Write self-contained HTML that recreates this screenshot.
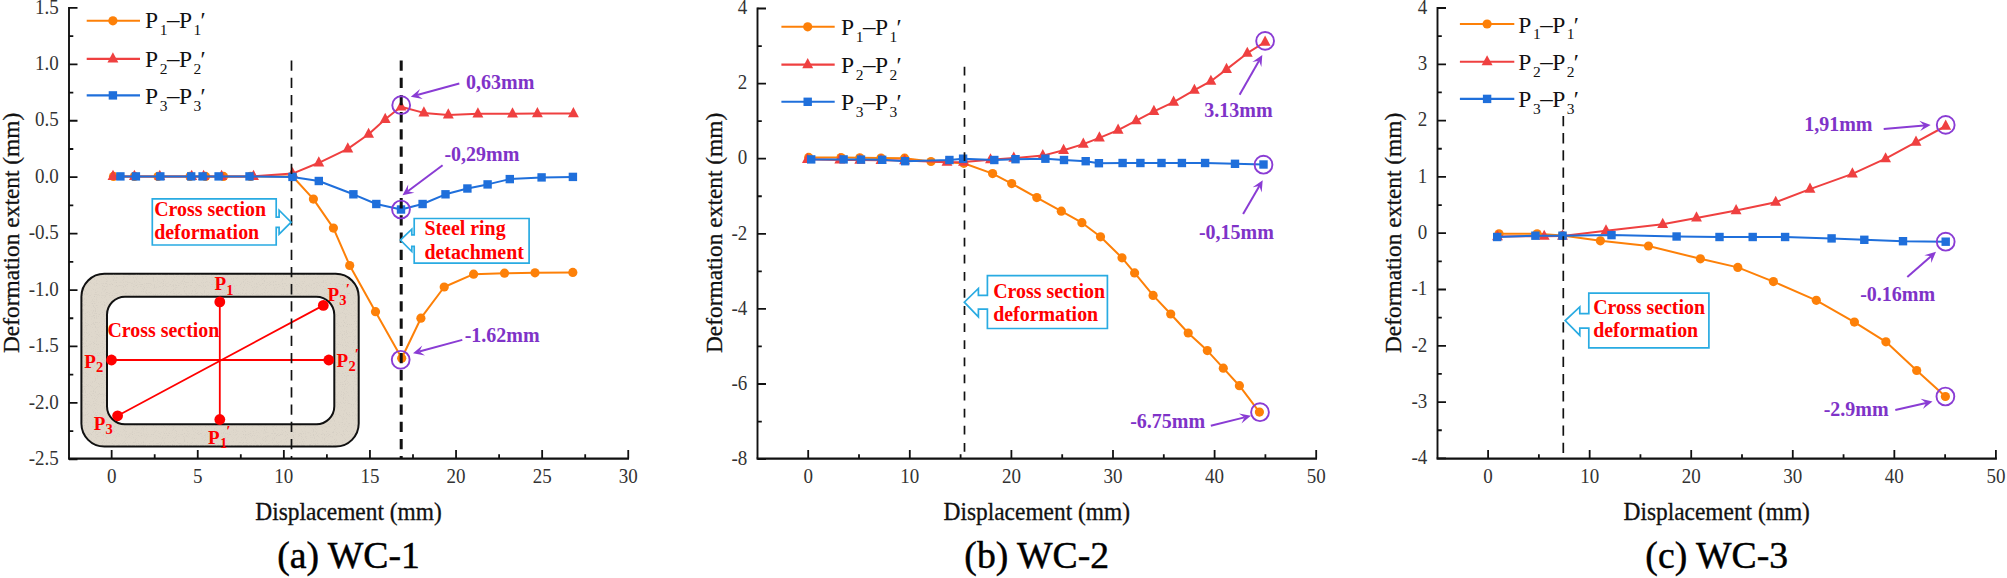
<!DOCTYPE html><html><head><meta charset="utf-8"><title>Deformation extent</title><style>html,body{margin:0;padding:0;background:#fff;}svg{display:block;}</style></head><body>
<svg width="2007" height="578" viewBox="0 0 2007 578">
<rect width="2007" height="578" fill="#fff"/>
<path d="M69 7V458.6" fill="none" stroke="#111" stroke-width="1.9"/>
<path d="M68.05 458.6H629" fill="none" stroke="#111" stroke-width="2.3"/>
<path d="M111.65 458.6v-8.5M197.75 458.6v-8.5M283.85 458.6v-8.5M369.95 458.6v-8.5M456.05 458.6v-8.5M542.15 458.6v-8.5M628.25 458.6v-8.5M154.7 458.6v-4.3M240.8 458.6v-4.3M326.9 458.6v-4.3M413 458.6v-4.3M499.1 458.6v-4.3M585.2 458.6v-4.3M69 7.93h8.5M69 64.35h8.5M69 120.77h8.5M69 177.2h8.5M69 233.62h8.5M69 290.05h8.5M69 346.47h8.5M69 402.9h8.5M69 459.32h8.5M69 36.14h4.3M69 92.56h4.3M69 148.99h4.3M69 205.41h4.3M69 261.84h4.3M69 318.26h4.3M69 374.69h4.3M69 431.11h4.3" fill="none" stroke="#111" stroke-width="1.8"/>
<g font-family="'Liberation Serif',serif" font-size="19" fill="#333">
<text transform="translate(111.65 482.8) scale(1 1.08)" text-anchor="middle">0</text>
<text transform="translate(197.75 482.8) scale(1 1.08)" text-anchor="middle">5</text>
<text transform="translate(283.85 482.8) scale(1 1.08)" text-anchor="middle">10</text>
<text transform="translate(369.95 482.8) scale(1 1.08)" text-anchor="middle">15</text>
<text transform="translate(456.05 482.8) scale(1 1.08)" text-anchor="middle">20</text>
<text transform="translate(542.15 482.8) scale(1 1.08)" text-anchor="middle">25</text>
<text transform="translate(628.25 482.8) scale(1 1.08)" text-anchor="middle">30</text>
<text transform="translate(58.8 13.63) scale(1 1.08)" text-anchor="end">1.5</text>
<text transform="translate(58.8 70.05) scale(1 1.08)" text-anchor="end">1.0</text>
<text transform="translate(58.8 126.47) scale(1 1.08)" text-anchor="end">0.5</text>
<text transform="translate(58.8 182.9) scale(1 1.08)" text-anchor="end">0.0</text>
<text transform="translate(58.8 239.32) scale(1 1.08)" text-anchor="end">-0.5</text>
<text transform="translate(58.8 295.75) scale(1 1.08)" text-anchor="end">-1.0</text>
<text transform="translate(58.8 352.17) scale(1 1.08)" text-anchor="end">-1.5</text>
<text transform="translate(58.8 408.6) scale(1 1.08)" text-anchor="end">-2.0</text>
<text transform="translate(58.8 465.02) scale(1 1.08)" text-anchor="end">-2.5</text>
</g>
<text transform="translate(348.5 520.3) scale(1 1.08)" text-anchor="middle" font-family="'Liberation Serif',serif" font-size="23.4" fill="#111" stroke="#111" stroke-width="0.3">Displacement (mm)</text>
<text transform="translate(19.2 232.9) rotate(-90)" text-anchor="middle" font-family="'Liberation Serif',serif" font-size="23.4" fill="#111" stroke="#111" stroke-width="0.3">Deformation extent (mm)</text>
<text x="348.5" y="567.8" text-anchor="middle" font-family="'Liberation Serif',serif" font-size="37.7" fill="#000" stroke="#000" stroke-width="0.45">(a) WC-1</text>
<g>
<rect x="81.4" y="273.7" width="277.3" height="172.9" rx="23" ry="23" fill="#DFD8CC" stroke="#111" stroke-width="2"/>
<filter id="grain" x="0" y="0" width="1" height="1"><feTurbulence type="fractalNoise" baseFrequency="1.1" numOctaves="1" seed="7"/><feColorMatrix type="matrix" values="0 0 0 0 0.55 0 0 0 0 0.52 0 0 0 0 0.47 0 0 0 1.8 -0.98"/><feComposite operator="in" in2="SourceGraphic"/></filter>
<rect x="82.4" y="274.7" width="275.3" height="170.9" rx="22" ry="22" fill="#000" filter="url(#grain)"/>
<rect x="107" y="296.7" width="227.3" height="127.5" rx="18" ry="18" fill="#fff" stroke="#111" stroke-width="2"/>
<path d="M219.8 301.9V419.5M111.5 360H328.8M117.6 415.8L323.3 305.4" stroke="#FF0000" stroke-width="1.8"/>
<circle cx="219.8" cy="301.9" r="5.4" fill="#FF0000"/>
<circle cx="219.8" cy="419.5" r="5.4" fill="#FF0000"/>
<circle cx="111.5" cy="360" r="5.4" fill="#FF0000"/>
<circle cx="328.8" cy="360" r="5.4" fill="#FF0000"/>
<circle cx="117.6" cy="415.8" r="5.4" fill="#FF0000"/>
<circle cx="323.3" cy="305.4" r="5.4" fill="#FF0000"/>
<text x="214.5" y="289.9" font-family="'Liberation Serif',serif" font-weight="bold" font-size="19" fill="#FF0000">P<tspan font-size="14.5" dy="4.6" dx="0.2">1</tspan></text>
<text x="208.1" y="443.6" font-family="'Liberation Serif',serif" font-weight="bold" font-size="19" fill="#FF0000">P<tspan font-size="14.5" dy="4.6" dx="0.2">1</tspan><tspan dy="-11.8" dx="-0.8" font-size="15.5">′</tspan></text>
<text x="84.2" y="367.6" font-family="'Liberation Serif',serif" font-weight="bold" font-size="19" fill="#FF0000">P<tspan font-size="14.5" dy="4.6" dx="0.2">2</tspan></text>
<text x="336.6" y="366.5" font-family="'Liberation Serif',serif" font-weight="bold" font-size="19" fill="#FF0000">P<tspan font-size="14.5" dy="4.6" dx="0.2">2</tspan><tspan dy="-11.8" dx="-0.8" font-size="15.5">′</tspan></text>
<text x="93.8" y="429.7" font-family="'Liberation Serif',serif" font-weight="bold" font-size="19" fill="#FF0000">P<tspan font-size="14.5" dy="4.6" dx="0.2">3</tspan></text>
<text x="327.4" y="300.8" font-family="'Liberation Serif',serif" font-weight="bold" font-size="19" fill="#FF0000">P<tspan font-size="14.5" dy="4.6" dx="0.2">3</tspan><tspan dy="-11.8" dx="-0.8" font-size="15.5">′</tspan></text>
<text x="107.5" y="336.5" font-family="'Liberation Serif',serif" font-weight="bold" font-size="19.9" fill="#FF0000">Cross section</text>
</g>
<path d="M113.5 176.4L134.4 176.4L158 176.4L190 176.4L205.5 176.4L223.5 176.4L250.5 176.4L292.7 176.5L313.4 199.1L333.4 228.1L349.7 265.5L375.5 311.7L401.7 358.2L420.9 318.2L444.2 287L473.6 274.2L504.5 273.2L535 272.8L572.8 272.4" fill="none" stroke="#FD8008" stroke-width="2" stroke-linejoin="round"/>
<g><circle cx="113.5" cy="176.4" r="4.6" fill="#FD8008"/><circle cx="134.4" cy="176.4" r="4.6" fill="#FD8008"/><circle cx="158" cy="176.4" r="4.6" fill="#FD8008"/><circle cx="190" cy="176.4" r="4.6" fill="#FD8008"/><circle cx="205.5" cy="176.4" r="4.6" fill="#FD8008"/><circle cx="223.5" cy="176.4" r="4.6" fill="#FD8008"/><circle cx="250.5" cy="176.4" r="4.6" fill="#FD8008"/><circle cx="292.7" cy="176.5" r="4.6" fill="#FD8008"/><circle cx="313.4" cy="199.1" r="4.6" fill="#FD8008"/><circle cx="333.4" cy="228.1" r="4.6" fill="#FD8008"/><circle cx="349.7" cy="265.5" r="4.6" fill="#FD8008"/><circle cx="375.5" cy="311.7" r="4.6" fill="#FD8008"/><circle cx="401.7" cy="358.2" r="4.6" fill="#FD8008"/><circle cx="420.9" cy="318.2" r="4.6" fill="#FD8008"/><circle cx="444.2" cy="287" r="4.6" fill="#FD8008"/><circle cx="473.6" cy="274.2" r="4.6" fill="#FD8008"/><circle cx="504.5" cy="273.2" r="4.6" fill="#FD8008"/><circle cx="535" cy="272.8" r="4.6" fill="#FD8008"/><circle cx="572.8" cy="272.4" r="4.6" fill="#FD8008"/></g>
<path d="M113 176.4L134.4 176.4L159.8 176.4L191.7 176.4L203.6 176.4L221.6 176.4L253.5 176.4L292.5 173.6L318.8 162.8L347.8 148.9L368.6 134.2L385.2 119.3L401 106.8L423.9 112.9L448.3 114.9L477.9 113.8L512.5 113.8L537.4 113.5L573.4 113.5" fill="none" stroke="#EF4040" stroke-width="2" stroke-linejoin="round"/>
<g><path d="M113 169.87L118.45 180.07H107.55Z" fill="#EF4040"/><path d="M134.4 169.87L139.85 180.07H128.95Z" fill="#EF4040"/><path d="M159.8 169.87L165.25 180.07H154.35Z" fill="#EF4040"/><path d="M191.7 169.87L197.15 180.07H186.25Z" fill="#EF4040"/><path d="M203.6 169.87L209.05 180.07H198.15Z" fill="#EF4040"/><path d="M221.6 169.87L227.05 180.07H216.15Z" fill="#EF4040"/><path d="M253.5 169.87L258.95 180.07H248.05Z" fill="#EF4040"/><path d="M292.5 167.07L297.95 177.27H287.05Z" fill="#EF4040"/><path d="M318.8 156.27L324.25 166.47H313.35Z" fill="#EF4040"/><path d="M347.8 142.37L353.25 152.57H342.35Z" fill="#EF4040"/><path d="M368.6 127.67L374.05 137.87H363.15Z" fill="#EF4040"/><path d="M385.2 112.77L390.65 122.97H379.75Z" fill="#EF4040"/><path d="M401 100.27L406.45 110.47H395.55Z" fill="#EF4040"/><path d="M423.9 106.37L429.35 116.57H418.45Z" fill="#EF4040"/><path d="M448.3 108.37L453.75 118.57H442.85Z" fill="#EF4040"/><path d="M477.9 107.27L483.35 117.47H472.45Z" fill="#EF4040"/><path d="M512.5 107.27L517.95 117.47H507.05Z" fill="#EF4040"/><path d="M537.4 106.97L542.85 117.17H531.95Z" fill="#EF4040"/><path d="M573.4 106.97L578.85 117.17H567.95Z" fill="#EF4040"/></g>
<path d="M120.4 176.4L135.9 176.4L160.3 176.4L191.2 176.4L202.6 176.4L218.6 176.4L249.5 176.4L292.5 176.9L318.8 181L353.4 194.3L376.3 204L401 209.5L422.6 204L445.5 194.3L467.4 188.5L487.6 184.4L509.8 179.1L541.6 177.4L572.9 176.9" fill="none" stroke="#1F6FDB" stroke-width="2" stroke-linejoin="round"/>
<g><rect x="116.2" y="172.2" width="8.4" height="8.4" fill="#1F6FDB"/><rect x="131.7" y="172.2" width="8.4" height="8.4" fill="#1F6FDB"/><rect x="156.1" y="172.2" width="8.4" height="8.4" fill="#1F6FDB"/><rect x="187" y="172.2" width="8.4" height="8.4" fill="#1F6FDB"/><rect x="198.4" y="172.2" width="8.4" height="8.4" fill="#1F6FDB"/><rect x="214.4" y="172.2" width="8.4" height="8.4" fill="#1F6FDB"/><rect x="245.3" y="172.2" width="8.4" height="8.4" fill="#1F6FDB"/><rect x="288.3" y="172.7" width="8.4" height="8.4" fill="#1F6FDB"/><rect x="314.6" y="176.8" width="8.4" height="8.4" fill="#1F6FDB"/><rect x="349.2" y="190.1" width="8.4" height="8.4" fill="#1F6FDB"/><rect x="372.1" y="199.8" width="8.4" height="8.4" fill="#1F6FDB"/><rect x="396.8" y="205.3" width="8.4" height="8.4" fill="#1F6FDB"/><rect x="418.4" y="199.8" width="8.4" height="8.4" fill="#1F6FDB"/><rect x="441.3" y="190.1" width="8.4" height="8.4" fill="#1F6FDB"/><rect x="463.2" y="184.3" width="8.4" height="8.4" fill="#1F6FDB"/><rect x="483.4" y="180.2" width="8.4" height="8.4" fill="#1F6FDB"/><rect x="505.6" y="174.9" width="8.4" height="8.4" fill="#1F6FDB"/><rect x="537.4" y="173.2" width="8.4" height="8.4" fill="#1F6FDB"/><rect x="568.7" y="172.7" width="8.4" height="8.4" fill="#1F6FDB"/></g>
<path d="M291.5 60.5V458" stroke="#111" stroke-width="1.7" stroke-dasharray="10.3 6.9"/>
<path d="M401.2 60.5V458" stroke="#111" stroke-width="3" stroke-dasharray="10.3 6.9"/>
<circle cx="401.2" cy="105.2" r="8.9" fill="none" stroke="#8A3CD4" stroke-width="1.9"/>
<circle cx="401" cy="209.5" r="8.9" fill="none" stroke="#8A3CD4" stroke-width="1.9"/>
<circle cx="400.7" cy="359.8" r="8.9" fill="none" stroke="#8A3CD4" stroke-width="1.9"/>
<path d="M86.7 20.8H140" stroke="#FD8008" stroke-width="2.1"/>
<circle cx="112.9" cy="20.8" r="4.6" fill="#FD8008"/>
<text font-family="'Liberation Serif',serif" font-size="23.5" fill="#111"><tspan x="145" y="28.3">P</tspan><tspan x="159.7" y="35.1" font-size="15.5">1</tspan><tspan x="167.1" y="28.3" font-size="25">–</tspan><tspan x="179" y="28.3">P</tspan><tspan x="193.5" y="35.1" font-size="15.5">1</tspan><tspan x="200.5" y="28.3">′</tspan></text>
<path d="M86.7 58.9H140" stroke="#EF4040" stroke-width="2.1"/>
<path d="M112.9 52.37L118.35 62.57H107.45Z" fill="#EF4040"/>
<text font-family="'Liberation Serif',serif" font-size="23.5" fill="#111"><tspan x="145" y="66.9">P</tspan><tspan x="159.7" y="73.7" font-size="15.5">2</tspan><tspan x="167.1" y="66.9" font-size="25">–</tspan><tspan x="179" y="66.9">P</tspan><tspan x="193.5" y="73.7" font-size="15.5">2</tspan><tspan x="200.5" y="66.9">′</tspan></text>
<path d="M86.7 95.4H140" stroke="#1F6FDB" stroke-width="2.1"/>
<rect x="108.7" y="91.2" width="8.4" height="8.4" fill="#1F6FDB"/>
<text font-family="'Liberation Serif',serif" font-size="23.5" fill="#111"><tspan x="145" y="104">P</tspan><tspan x="159.7" y="110.8" font-size="15.5">3</tspan><tspan x="167.1" y="104" font-size="25">–</tspan><tspan x="179" y="104">P</tspan><tspan x="193.5" y="110.8" font-size="15.5">3</tspan><tspan x="200.5" y="104">′</tspan></text>
<path d="M152.3 198.8H276.2V217.2H279.1V210.2L291.1 222.2L279.1 234.1V227.4H276.2V245H152.3Z" fill="#fff" stroke="#29ABE2" stroke-width="1.7" stroke-linejoin="miter"/>
<text x="154.2" y="215.8" font-family="'Liberation Serif',serif" font-weight="bold" font-size="19.9" fill="#FF0000">Cross section</text>
<text x="154.2" y="238.6" font-family="'Liberation Serif',serif" font-weight="bold" font-size="19.9" fill="#FF0000">deformation</text>
<path d="M529.1 218.5H414.2V234.9H411.8V229.2L400.4 240.1L411.8 251.5V246.3H414.2V263.2H529.1Z" fill="#fff" stroke="#29ABE2" stroke-width="1.7" stroke-linejoin="miter"/>
<text x="424.4" y="235.4" font-family="'Liberation Serif',serif" font-weight="bold" font-size="19.9" fill="#FF0000">Steel ring</text>
<text x="424.4" y="258.6" font-family="'Liberation Serif',serif" font-weight="bold" font-size="19.9" fill="#FF0000">detachment</text>
<text x="466" y="88.5" font-family="'Liberation Serif',serif" font-weight="bold" font-size="20" fill="#7F33C8">0,63mm</text>
<path d="M459.3 83.5L417.17 95.05" stroke="#8A3CD4" stroke-width="2.0"/>
<path d="M410.8 96.8L420.03 88.88L417.17 95.05L422.78 98.91Z" fill="#8A3CD4"/>
<text x="444.4" y="160.5" font-family="'Liberation Serif',serif" font-weight="bold" font-size="20" fill="#7F33C8">-0,29mm</text>
<path d="M442.6 165.3L407.79 191.25" stroke="#8A3CD4" stroke-width="2.0"/>
<path d="M402.5 195.2L408.21 184.46L407.79 191.25L414.43 192.79Z" fill="#8A3CD4"/>
<text x="464.7" y="341.6" font-family="'Liberation Serif',serif" font-weight="bold" font-size="20" fill="#7F33C8">-1.62mm</text>
<path d="M462.3 339.9L419.37 351.57" stroke="#8A3CD4" stroke-width="2.0"/>
<path d="M413 353.3L422.25 345.4L419.37 351.57L424.98 355.43Z" fill="#8A3CD4"/>
<path d="M757.5 7.4V458.6" fill="none" stroke="#111" stroke-width="1.9"/>
<path d="M756.55 458.6H1317" fill="none" stroke="#111" stroke-width="2.3"/>
<path d="M808.2 458.6v-8.5M909.8 458.6v-8.5M1011.4 458.6v-8.5M1113 458.6v-8.5M1214.6 458.6v-8.5M1316.2 458.6v-8.5M859 458.6v-4.3M960.6 458.6v-4.3M1062.2 458.6v-4.3M1163.8 458.6v-4.3M1265.4 458.6v-4.3M757.5 8.5h8.5M757.5 83.6h8.5M757.5 158.7h8.5M757.5 233.8h8.5M757.5 308.9h8.5M757.5 384h8.5M757.5 459.1h8.5M757.5 46.05h4.3M757.5 121.15h4.3M757.5 196.25h4.3M757.5 271.35h4.3M757.5 346.45h4.3M757.5 421.55h4.3" fill="none" stroke="#111" stroke-width="1.8"/>
<g font-family="'Liberation Serif',serif" font-size="19" fill="#333">
<text transform="translate(808.2 482.8) scale(1 1.08)" text-anchor="middle">0</text>
<text transform="translate(909.8 482.8) scale(1 1.08)" text-anchor="middle">10</text>
<text transform="translate(1011.4 482.8) scale(1 1.08)" text-anchor="middle">20</text>
<text transform="translate(1113 482.8) scale(1 1.08)" text-anchor="middle">30</text>
<text transform="translate(1214.6 482.8) scale(1 1.08)" text-anchor="middle">40</text>
<text transform="translate(1316.2 482.8) scale(1 1.08)" text-anchor="middle">50</text>
<text transform="translate(747.3 14.2) scale(1 1.08)" text-anchor="end">4</text>
<text transform="translate(747.3 89.3) scale(1 1.08)" text-anchor="end">2</text>
<text transform="translate(747.3 164.4) scale(1 1.08)" text-anchor="end">0</text>
<text transform="translate(747.3 239.5) scale(1 1.08)" text-anchor="end">-2</text>
<text transform="translate(747.3 314.6) scale(1 1.08)" text-anchor="end">-4</text>
<text transform="translate(747.3 389.7) scale(1 1.08)" text-anchor="end">-6</text>
<text transform="translate(747.3 464.8) scale(1 1.08)" text-anchor="end">-8</text>
</g>
<text transform="translate(1036.75 519.7) scale(1 1.08)" text-anchor="middle" font-family="'Liberation Serif',serif" font-size="23.4" fill="#111" stroke="#111" stroke-width="0.3">Displacement (mm)</text>
<text transform="translate(721.5 232.9) rotate(-90)" text-anchor="middle" font-family="'Liberation Serif',serif" font-size="23.4" fill="#111" stroke="#111" stroke-width="0.3">Deformation extent (mm)</text>
<text x="1036.75" y="567.8" text-anchor="middle" font-family="'Liberation Serif',serif" font-size="37.7" fill="#000" stroke="#000" stroke-width="0.45">(b) WC-2</text>
<path d="M808.7 157.4L841 157.6L859.8 157.8L881 158L904.6 158.2L931 161.5L963.8 163.3L992.6 173.6L1011.7 183.6L1036.8 197.6L1061.3 211.2L1081.9 222.7L1100.5 236.8L1122 257.8L1134.6 272.9L1153.1 295.4L1170.7 314L1188.2 333L1207.3 350.6L1223.3 368.2L1239.4 385.7L1259.4 412.1" fill="none" stroke="#FD8008" stroke-width="2" stroke-linejoin="round"/>
<g><circle cx="808.7" cy="157.4" r="4.6" fill="#FD8008"/><circle cx="841" cy="157.6" r="4.6" fill="#FD8008"/><circle cx="859.8" cy="157.8" r="4.6" fill="#FD8008"/><circle cx="881" cy="158" r="4.6" fill="#FD8008"/><circle cx="904.6" cy="158.2" r="4.6" fill="#FD8008"/><circle cx="931" cy="161.5" r="4.6" fill="#FD8008"/><circle cx="963.8" cy="163.3" r="4.6" fill="#FD8008"/><circle cx="992.6" cy="173.6" r="4.6" fill="#FD8008"/><circle cx="1011.7" cy="183.6" r="4.6" fill="#FD8008"/><circle cx="1036.8" cy="197.6" r="4.6" fill="#FD8008"/><circle cx="1061.3" cy="211.2" r="4.6" fill="#FD8008"/><circle cx="1081.9" cy="222.7" r="4.6" fill="#FD8008"/><circle cx="1100.5" cy="236.8" r="4.6" fill="#FD8008"/><circle cx="1122" cy="257.8" r="4.6" fill="#FD8008"/><circle cx="1134.6" cy="272.9" r="4.6" fill="#FD8008"/><circle cx="1153.1" cy="295.4" r="4.6" fill="#FD8008"/><circle cx="1170.7" cy="314" r="4.6" fill="#FD8008"/><circle cx="1188.2" cy="333" r="4.6" fill="#FD8008"/><circle cx="1207.3" cy="350.6" r="4.6" fill="#FD8008"/><circle cx="1223.3" cy="368.2" r="4.6" fill="#FD8008"/><circle cx="1239.4" cy="385.7" r="4.6" fill="#FD8008"/><circle cx="1259.4" cy="412.1" r="4.6" fill="#FD8008"/></g>
<path d="M807.4 159.3L839.8 159.9L859.8 160.1L881 160.3L904.6 160.6L947 162.2L963.5 162L990.5 159.7L1013.8 158.1L1042.8 155.6L1063.6 150.3L1083.3 144.1L1099.4 137.9L1118.1 130.1L1136.2 120.7L1153.9 111.4L1173.6 102.1L1194.4 90.2L1210.9 81.2L1226.5 69.4L1247.3 53.2L1265.1 42" fill="none" stroke="#EF4040" stroke-width="2" stroke-linejoin="round"/>
<g><path d="M807.4 152.77L812.85 162.97H801.95Z" fill="#EF4040"/><path d="M839.8 153.37L845.25 163.57H834.35Z" fill="#EF4040"/><path d="M859.8 153.57L865.25 163.77H854.35Z" fill="#EF4040"/><path d="M881 153.77L886.45 163.97H875.55Z" fill="#EF4040"/><path d="M904.6 154.07L910.05 164.27H899.15Z" fill="#EF4040"/><path d="M947 155.67L952.45 165.87H941.55Z" fill="#EF4040"/><path d="M963.5 155.47L968.95 165.67H958.05Z" fill="#EF4040"/><path d="M990.5 153.17L995.95 163.37H985.05Z" fill="#EF4040"/><path d="M1013.8 151.57L1019.25 161.77H1008.35Z" fill="#EF4040"/><path d="M1042.8 149.07L1048.25 159.27H1037.35Z" fill="#EF4040"/><path d="M1063.6 143.77L1069.05 153.97H1058.15Z" fill="#EF4040"/><path d="M1083.3 137.57L1088.75 147.77H1077.85Z" fill="#EF4040"/><path d="M1099.4 131.37L1104.85 141.57H1093.95Z" fill="#EF4040"/><path d="M1118.1 123.57L1123.55 133.77H1112.65Z" fill="#EF4040"/><path d="M1136.2 114.17L1141.65 124.37H1130.75Z" fill="#EF4040"/><path d="M1153.9 104.87L1159.35 115.07H1148.45Z" fill="#EF4040"/><path d="M1173.6 95.57L1179.05 105.77H1168.15Z" fill="#EF4040"/><path d="M1194.4 83.67L1199.85 93.87H1188.95Z" fill="#EF4040"/><path d="M1210.9 74.67L1216.35 84.87H1205.45Z" fill="#EF4040"/><path d="M1226.5 62.87L1231.95 73.07H1221.05Z" fill="#EF4040"/><path d="M1247.3 46.67L1252.75 56.87H1241.85Z" fill="#EF4040"/><path d="M1265.1 35.47L1270.55 45.67H1259.65Z" fill="#EF4040"/></g>
<path d="M811.2 159.4L843.6 159.4L861 159.6L882.2 159.8L905.1 161.2L949.4 160L963.1 158.7L994.3 160L1015.5 159.2L1045.4 158.7L1064 160L1085.7 161.2L1098.9 163.2L1122.6 163L1140.4 163L1161.5 163L1181.9 163L1205.1 163L1235 163.8L1263.5 164.5" fill="none" stroke="#1F6FDB" stroke-width="2" stroke-linejoin="round"/>
<g><rect x="807" y="155.2" width="8.4" height="8.4" fill="#1F6FDB"/><rect x="839.4" y="155.2" width="8.4" height="8.4" fill="#1F6FDB"/><rect x="856.8" y="155.4" width="8.4" height="8.4" fill="#1F6FDB"/><rect x="878" y="155.6" width="8.4" height="8.4" fill="#1F6FDB"/><rect x="900.9" y="157" width="8.4" height="8.4" fill="#1F6FDB"/><rect x="945.2" y="155.8" width="8.4" height="8.4" fill="#1F6FDB"/><rect x="958.9" y="154.5" width="8.4" height="8.4" fill="#1F6FDB"/><rect x="990.1" y="155.8" width="8.4" height="8.4" fill="#1F6FDB"/><rect x="1011.3" y="155" width="8.4" height="8.4" fill="#1F6FDB"/><rect x="1041.2" y="154.5" width="8.4" height="8.4" fill="#1F6FDB"/><rect x="1059.8" y="155.8" width="8.4" height="8.4" fill="#1F6FDB"/><rect x="1081.5" y="157" width="8.4" height="8.4" fill="#1F6FDB"/><rect x="1094.7" y="159" width="8.4" height="8.4" fill="#1F6FDB"/><rect x="1118.4" y="158.8" width="8.4" height="8.4" fill="#1F6FDB"/><rect x="1136.2" y="158.8" width="8.4" height="8.4" fill="#1F6FDB"/><rect x="1157.3" y="158.8" width="8.4" height="8.4" fill="#1F6FDB"/><rect x="1177.7" y="158.8" width="8.4" height="8.4" fill="#1F6FDB"/><rect x="1200.9" y="158.8" width="8.4" height="8.4" fill="#1F6FDB"/><rect x="1230.8" y="159.6" width="8.4" height="8.4" fill="#1F6FDB"/><rect x="1259.3" y="160.3" width="8.4" height="8.4" fill="#1F6FDB"/></g>
<path d="M964.5 66.7V458" stroke="#111" stroke-width="1.7" stroke-dasharray="8.8 8.3"/>
<circle cx="1265.1" cy="40.9" r="8.9" fill="none" stroke="#8A3CD4" stroke-width="1.9"/>
<circle cx="1263.5" cy="164.7" r="8.9" fill="none" stroke="#8A3CD4" stroke-width="1.9"/>
<circle cx="1260" cy="412.2" r="8.9" fill="none" stroke="#8A3CD4" stroke-width="1.9"/>
<path d="M781.4 26.8H834.7" stroke="#FD8008" stroke-width="2.1"/>
<circle cx="807.7" cy="26.8" r="4.6" fill="#FD8008"/>
<text font-family="'Liberation Serif',serif" font-size="23.5" fill="#111"><tspan x="841" y="35">P</tspan><tspan x="855.7" y="41.8" font-size="15.5">1</tspan><tspan x="863.1" y="35" font-size="25">–</tspan><tspan x="875" y="35">P</tspan><tspan x="889.5" y="41.8" font-size="15.5">1</tspan><tspan x="896.5" y="35">′</tspan></text>
<path d="M781.4 64.6H834.7" stroke="#EF4040" stroke-width="2.1"/>
<path d="M807.7 58.07L813.15 68.27H802.25Z" fill="#EF4040"/>
<text font-family="'Liberation Serif',serif" font-size="23.5" fill="#111"><tspan x="841" y="72.8">P</tspan><tspan x="855.7" y="79.6" font-size="15.5">2</tspan><tspan x="863.1" y="72.8" font-size="25">–</tspan><tspan x="875" y="72.8">P</tspan><tspan x="889.5" y="79.6" font-size="15.5">2</tspan><tspan x="896.5" y="72.8">′</tspan></text>
<path d="M781.4 101.8H834.7" stroke="#1F6FDB" stroke-width="2.1"/>
<rect x="803.5" y="97.6" width="8.4" height="8.4" fill="#1F6FDB"/>
<text font-family="'Liberation Serif',serif" font-size="23.5" fill="#111"><tspan x="841" y="109.9">P</tspan><tspan x="855.7" y="116.7" font-size="15.5">3</tspan><tspan x="863.1" y="109.9" font-size="25">–</tspan><tspan x="875" y="109.9">P</tspan><tspan x="889.5" y="116.7" font-size="15.5">3</tspan><tspan x="896.5" y="109.9">′</tspan></text>
<path d="M1107.4 275.6H987.4V295.3H978.4V288.4L964.3 302.2L978.4 316.8V309.1H987.4V328.5H1107.4Z" fill="#fff" stroke="#29ABE2" stroke-width="1.7" stroke-linejoin="miter"/>
<text x="993.2" y="297.7" font-family="'Liberation Serif',serif" font-weight="bold" font-size="19.9" fill="#FF0000">Cross section</text>
<text x="993.2" y="320.9" font-family="'Liberation Serif',serif" font-weight="bold" font-size="19.9" fill="#FF0000">deformation</text>
<text x="1204.3" y="117.2" font-family="'Liberation Serif',serif" font-weight="bold" font-size="20" fill="#7F33C8">3.13mm</text>
<path d="M1239.6 94.7L1259.03 60.63" stroke="#8A3CD4" stroke-width="2.0"/>
<path d="M1262.3 54.9L1261.37 67.03L1259.03 60.63L1252.33 61.88Z" fill="#8A3CD4"/>
<text x="1198.9" y="239.1" font-family="'Liberation Serif',serif" font-weight="bold" font-size="20" fill="#7F33C8">-0,15mm</text>
<path d="M1243.1 214L1259.38 186.01" stroke="#8A3CD4" stroke-width="2.0"/>
<path d="M1262.7 180.3L1261.66 192.42L1259.38 186.01L1252.67 187.19Z" fill="#8A3CD4"/>
<text x="1130.2" y="428" font-family="'Liberation Serif',serif" font-weight="bold" font-size="20" fill="#7F33C8">-6.75mm</text>
<path d="M1210.8 425.8L1244.5 417.4" stroke="#8A3CD4" stroke-width="2.0"/>
<path d="M1250.9 415.8L1241.49 423.51L1244.5 417.4L1238.97 413.42Z" fill="#8A3CD4"/>
<path d="M1437.5 6.9V458.6" fill="none" stroke="#111" stroke-width="1.9"/>
<path d="M1436.55 458.6H1996.9" fill="none" stroke="#111" stroke-width="2.3"/>
<path d="M1488.1 458.6v-8.5M1589.66 458.6v-8.5M1691.22 458.6v-8.5M1792.78 458.6v-8.5M1894.34 458.6v-8.5M1995.9 458.6v-8.5M1538.88 458.6v-4.3M1640.44 458.6v-4.3M1742 458.6v-4.3M1843.56 458.6v-4.3M1945.12 458.6v-4.3M1437.5 8h8.5M1437.5 64.3h8.5M1437.5 120.6h8.5M1437.5 176.9h8.5M1437.5 233.2h8.5M1437.5 289.5h8.5M1437.5 345.8h8.5M1437.5 402.1h8.5M1437.5 458.4h8.5M1437.5 36.15h4.3M1437.5 92.45h4.3M1437.5 148.75h4.3M1437.5 205.05h4.3M1437.5 261.35h4.3M1437.5 317.65h4.3M1437.5 373.95h4.3M1437.5 430.25h4.3" fill="none" stroke="#111" stroke-width="1.8"/>
<g font-family="'Liberation Serif',serif" font-size="19" fill="#333">
<text transform="translate(1488.1 482.8) scale(1 1.08)" text-anchor="middle">0</text>
<text transform="translate(1589.66 482.8) scale(1 1.08)" text-anchor="middle">10</text>
<text transform="translate(1691.22 482.8) scale(1 1.08)" text-anchor="middle">20</text>
<text transform="translate(1792.78 482.8) scale(1 1.08)" text-anchor="middle">30</text>
<text transform="translate(1894.34 482.8) scale(1 1.08)" text-anchor="middle">40</text>
<text transform="translate(1995.9 482.8) scale(1 1.08)" text-anchor="middle">50</text>
<text transform="translate(1427.3 13.7) scale(1 1.08)" text-anchor="end">4</text>
<text transform="translate(1427.3 70) scale(1 1.08)" text-anchor="end">3</text>
<text transform="translate(1427.3 126.3) scale(1 1.08)" text-anchor="end">2</text>
<text transform="translate(1427.3 182.6) scale(1 1.08)" text-anchor="end">1</text>
<text transform="translate(1427.3 238.9) scale(1 1.08)" text-anchor="end">0</text>
<text transform="translate(1427.3 295.2) scale(1 1.08)" text-anchor="end">-1</text>
<text transform="translate(1427.3 351.5) scale(1 1.08)" text-anchor="end">-2</text>
<text transform="translate(1427.3 407.8) scale(1 1.08)" text-anchor="end">-3</text>
<text transform="translate(1427.3 464.1) scale(1 1.08)" text-anchor="end">-4</text>
</g>
<text transform="translate(1716.7 520) scale(1 1.08)" text-anchor="middle" font-family="'Liberation Serif',serif" font-size="23.4" fill="#111" stroke="#111" stroke-width="0.3">Displacement (mm)</text>
<text transform="translate(1401 232.9) rotate(-90)" text-anchor="middle" font-family="'Liberation Serif',serif" font-size="23.4" fill="#111" stroke="#111" stroke-width="0.3">Deformation extent (mm)</text>
<text x="1716.7" y="567.8" text-anchor="middle" font-family="'Liberation Serif',serif" font-size="37.7" fill="#000" stroke="#000" stroke-width="0.45">(c) WC-3</text>
<path d="M1499 233.8L1537.1 233.8L1562.4 235.6L1600.4 240.8L1648.5 246L1700.4 258.8L1737.8 267.4L1773.4 281.6L1816.3 300.3L1854.4 322.1L1885.9 341.8L1916.7 370.5L1945.4 396.5" fill="none" stroke="#FD8008" stroke-width="2" stroke-linejoin="round"/>
<g><circle cx="1499" cy="233.8" r="4.6" fill="#FD8008"/><circle cx="1537.1" cy="233.8" r="4.6" fill="#FD8008"/><circle cx="1562.4" cy="235.6" r="4.6" fill="#FD8008"/><circle cx="1600.4" cy="240.8" r="4.6" fill="#FD8008"/><circle cx="1648.5" cy="246" r="4.6" fill="#FD8008"/><circle cx="1700.4" cy="258.8" r="4.6" fill="#FD8008"/><circle cx="1737.8" cy="267.4" r="4.6" fill="#FD8008"/><circle cx="1773.4" cy="281.6" r="4.6" fill="#FD8008"/><circle cx="1816.3" cy="300.3" r="4.6" fill="#FD8008"/><circle cx="1854.4" cy="322.1" r="4.6" fill="#FD8008"/><circle cx="1885.9" cy="341.8" r="4.6" fill="#FD8008"/><circle cx="1916.7" cy="370.5" r="4.6" fill="#FD8008"/><circle cx="1945.4" cy="396.5" r="4.6" fill="#FD8008"/></g>
<path d="M1497.5 236.6L1544.2 236.2L1562.5 236.1L1606 230.7L1662.7 224.3L1696.5 217.9L1736.1 210.5L1775.7 202.2L1810 189.1L1852.4 173.9L1885.6 158.7L1916 142.1L1945.7 126" fill="none" stroke="#EF4040" stroke-width="2" stroke-linejoin="round"/>
<g><path d="M1497.5 230.07L1502.95 240.27H1492.05Z" fill="#EF4040"/><path d="M1544.2 229.67L1549.65 239.87H1538.75Z" fill="#EF4040"/><path d="M1562.5 229.57L1567.95 239.77H1557.05Z" fill="#EF4040"/><path d="M1606 224.17L1611.45 234.37H1600.55Z" fill="#EF4040"/><path d="M1662.7 217.77L1668.15 227.97H1657.25Z" fill="#EF4040"/><path d="M1696.5 211.37L1701.95 221.57H1691.05Z" fill="#EF4040"/><path d="M1736.1 203.97L1741.55 214.17H1730.65Z" fill="#EF4040"/><path d="M1775.7 195.67L1781.15 205.87H1770.25Z" fill="#EF4040"/><path d="M1810 182.57L1815.45 192.77H1804.55Z" fill="#EF4040"/><path d="M1852.4 167.37L1857.85 177.57H1846.95Z" fill="#EF4040"/><path d="M1885.6 152.17L1891.05 162.37H1880.15Z" fill="#EF4040"/><path d="M1916 135.57L1921.45 145.77H1910.55Z" fill="#EF4040"/><path d="M1945.7 119.47L1951.15 129.67H1940.25Z" fill="#EF4040"/></g>
<path d="M1497.2 237L1535.4 235.7L1562.5 235.7L1611.5 235.1L1676.6 236.5L1719.5 237L1752.7 237L1785.1 237L1831.6 238.4L1864.3 239.8L1903 241.2L1945.7 241.7" fill="none" stroke="#1F6FDB" stroke-width="2" stroke-linejoin="round"/>
<g><rect x="1493" y="232.8" width="8.4" height="8.4" fill="#1F6FDB"/><rect x="1531.2" y="231.5" width="8.4" height="8.4" fill="#1F6FDB"/><rect x="1558.3" y="231.5" width="8.4" height="8.4" fill="#1F6FDB"/><rect x="1607.3" y="230.9" width="8.4" height="8.4" fill="#1F6FDB"/><rect x="1672.4" y="232.3" width="8.4" height="8.4" fill="#1F6FDB"/><rect x="1715.3" y="232.8" width="8.4" height="8.4" fill="#1F6FDB"/><rect x="1748.5" y="232.8" width="8.4" height="8.4" fill="#1F6FDB"/><rect x="1780.9" y="232.8" width="8.4" height="8.4" fill="#1F6FDB"/><rect x="1827.4" y="234.2" width="8.4" height="8.4" fill="#1F6FDB"/><rect x="1860.1" y="235.6" width="8.4" height="8.4" fill="#1F6FDB"/><rect x="1898.8" y="237" width="8.4" height="8.4" fill="#1F6FDB"/><rect x="1941.5" y="237.5" width="8.4" height="8.4" fill="#1F6FDB"/></g>
<path d="M1563.3 115.9V458" stroke="#111" stroke-width="1.7" stroke-dasharray="10.3 6.9"/>
<circle cx="1945.7" cy="124.9" r="8.9" fill="none" stroke="#8A3CD4" stroke-width="1.9"/>
<circle cx="1945.7" cy="241.7" r="8.9" fill="none" stroke="#8A3CD4" stroke-width="1.9"/>
<circle cx="1945.4" cy="396.5" r="8.9" fill="none" stroke="#8A3CD4" stroke-width="1.9"/>
<path d="M1459.9 24H1514.3" stroke="#FD8008" stroke-width="2.1"/>
<circle cx="1487.1" cy="24" r="4.6" fill="#FD8008"/>
<text font-family="'Liberation Serif',serif" font-size="23.5" fill="#111"><tspan x="1518.2" y="32.6">P</tspan><tspan x="1532.9" y="39.4" font-size="15.5">1</tspan><tspan x="1540.3" y="32.6" font-size="25">–</tspan><tspan x="1552.2" y="32.6">P</tspan><tspan x="1566.7" y="39.4" font-size="15.5">1</tspan><tspan x="1573.7" y="32.6">′</tspan></text>
<path d="M1459.9 61.7H1514.3" stroke="#EF4040" stroke-width="2.1"/>
<path d="M1487.1 55.17L1492.55 65.37H1481.65Z" fill="#EF4040"/>
<text font-family="'Liberation Serif',serif" font-size="23.5" fill="#111"><tspan x="1518.2" y="69.7">P</tspan><tspan x="1532.9" y="76.5" font-size="15.5">2</tspan><tspan x="1540.3" y="69.7" font-size="25">–</tspan><tspan x="1552.2" y="69.7">P</tspan><tspan x="1566.7" y="76.5" font-size="15.5">2</tspan><tspan x="1573.7" y="69.7">′</tspan></text>
<path d="M1459.9 98.9H1514.3" stroke="#1F6FDB" stroke-width="2.1"/>
<rect x="1482.9" y="94.7" width="8.4" height="8.4" fill="#1F6FDB"/>
<text font-family="'Liberation Serif',serif" font-size="23.5" fill="#111"><tspan x="1518.2" y="106.8">P</tspan><tspan x="1532.9" y="113.6" font-size="15.5">3</tspan><tspan x="1540.3" y="106.8" font-size="25">–</tspan><tspan x="1552.2" y="106.8">P</tspan><tspan x="1566.7" y="113.6" font-size="15.5">3</tspan><tspan x="1573.7" y="106.8">′</tspan></text>
<path d="M1708.9 293.2H1588.8V313.6H1579.8V307L1565.2 320.6L1579.8 335.4V328.2H1588.8V347.8H1708.9Z" fill="#fff" stroke="#29ABE2" stroke-width="1.7" stroke-linejoin="miter"/>
<text x="1593.2" y="314.3" font-family="'Liberation Serif',serif" font-weight="bold" font-size="19.9" fill="#FF0000">Cross section</text>
<text x="1593.2" y="337" font-family="'Liberation Serif',serif" font-weight="bold" font-size="19.9" fill="#FF0000">deformation</text>
<text x="1804.2" y="131.3" font-family="'Liberation Serif',serif" font-weight="bold" font-size="20" fill="#7F33C8">1,91mm</text>
<path d="M1883.7 129.1L1924.13 125.49" stroke="#8A3CD4" stroke-width="2.0"/>
<path d="M1930.7 124.9L1920.21 131.06L1924.13 125.49L1919.28 120.7Z" fill="#8A3CD4"/>
<text x="1860.2" y="301.3" font-family="'Liberation Serif',serif" font-weight="bold" font-size="20" fill="#7F33C8">-0.16mm</text>
<path d="M1907.3 277.1L1931.05 256.16" stroke="#8A3CD4" stroke-width="2.0"/>
<path d="M1936 251.8L1931.19 262.97L1931.05 256.16L1924.31 255.17Z" fill="#8A3CD4"/>
<text x="1823.7" y="416" font-family="'Liberation Serif',serif" font-weight="bold" font-size="20" fill="#7F33C8">-2.9mm</text>
<path d="M1895.3 409.9L1926.06 402.95" stroke="#8A3CD4" stroke-width="2.0"/>
<path d="M1932.5 401.5L1922.92 409L1926.06 402.95L1920.62 398.85Z" fill="#8A3CD4"/>
</svg></body></html>
